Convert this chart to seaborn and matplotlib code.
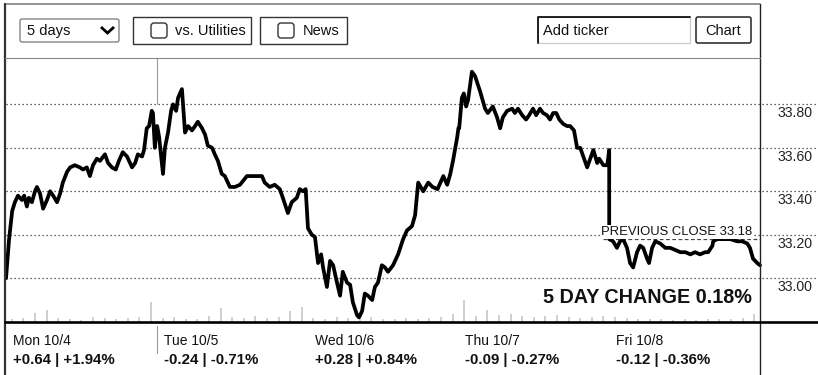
import numpy as np
import pandas as pd
import matplotlib
matplotlib.use("Agg")
import matplotlib.pyplot as plt
from matplotlib import transforms
from matplotlib.patches import Rectangle, FancyBboxPatch
import seaborn as sns

# ---- data -------------------------------------------------------------
days = ["Mon 10/4", "Tue 10/5", "Wed 10/6", "Thu 10/7", "Fri 10/8"]
day_change = ["+0.64 | +1.94%", "-0.24 | -0.71%", "+0.28 | +0.84%",
              "-0.09 | -0.27%", "-0.12 | -0.36%"]
price_levels = [33.00, 33.20, 33.40, 33.60, 33.80]
prev_close = 33.18
five_day_change = "0.18%"

# minutes after the 9:30 open and last trade price
mon_t = [0, 8, 16, 23, 31, 41, 47, 54, 59, 67, 75, 80, 88, 96, 106, 114, 122, 132,
         140, 147, 158, 166, 178, 191, 199, 209, 217, 225, 235, 243, 256, 264, 274,
         284, 292, 302, 313, 326, 334, 341, 352, 357, 364, 370, 377, 380, 385, 390]
mon_p = [33.00, 33.18, 33.31, 33.35, 33.38, 33.36, 33.38, 33.33, 33.37, 33.35, 33.40,
         33.42, 33.39, 33.32, 33.36, 33.40, 33.38, 33.35, 33.39, 33.44, 33.49, 33.51,
         33.52, 33.51, 33.50, 33.51, 33.47, 33.52, 33.55, 33.54, 33.57, 33.53, 33.51,
         33.50, 33.54, 33.58, 33.56, 33.51, 33.53, 33.57, 33.56, 33.59, 33.69, 33.70,
         33.77, 33.76, 33.60, 33.70]

tue_t = [1, 6, 16, 21, 29, 37, 42, 50, 55, 65, 73, 81, 91, 99, 106, 117, 125, 132,
         143, 150, 158, 168, 176, 189, 202, 215, 233, 246, 259, 272, 279, 292, 305,
         318, 326, 339, 349, 362, 370, 378, 385]
tue_p = [33.70, 33.65, 33.48, 33.60, 33.67, 33.77, 33.80, 33.77, 33.83, 33.87, 33.67,
         33.70, 33.68, 33.70, 33.72, 33.69, 33.66, 33.61, 33.60, 33.57, 33.54, 33.48,
         33.47, 33.42, 33.42, 33.43, 33.47, 33.47, 33.47, 33.47, 33.44, 33.42, 33.43,
         33.41, 33.37, 33.30, 33.35, 33.37, 33.41, 33.40, 33.41]

wed_t = [1, 11, 19, 27, 35, 40, 50, 58, 66, 76, 84, 91, 102, 110, 117, 128, 133, 141,
         148, 156, 167, 174, 182, 192, 200, 208, 221, 234, 247, 257, 270, 278, 286,
         299, 312, 323, 336, 351, 361, 369, 376, 387, 390]
wed_p = [33.23, 33.20, 33.19, 33.07, 33.11, 33.05, 32.96, 33.08, 33.06, 32.98, 32.92,
         33.03, 32.98, 32.97, 32.89, 32.83, 32.82, 32.85, 32.93, 32.92, 32.90, 32.96,
         32.98, 33.06, 33.05, 33.03, 33.06, 33.11, 33.18, 33.22, 33.24, 33.29, 33.44,
         33.40, 33.44, 33.42, 33.41, 33.47, 33.43, 33.48, 33.54, 33.65, 33.69]

thu_t = [2, 9, 14, 20, 25, 35, 43, 56, 69, 76, 89, 100, 108, 115, 126, 139, 146, 154,
         165, 175, 183, 193, 201, 211, 219, 229, 237, 245, 253, 261, 271, 281, 289,
         299, 307, 315, 323, 333, 341, 349, 359, 364, 375, 385, 390]
thu_p = [33.69, 33.83, 33.85, 33.79, 33.82, 33.95, 33.93, 33.86, 33.78, 33.76, 33.79,
         33.74, 33.69, 33.74, 33.77, 33.78, 33.76, 33.78, 33.75, 33.73, 33.75, 33.78,
         33.75, 33.78, 33.76, 33.75, 33.73, 33.76, 33.76, 33.73, 33.71, 33.70, 33.70,
         33.68, 33.60, 33.60, 33.56, 33.51, 33.55, 33.59, 33.53, 33.55, 33.52, 33.52,
         33.59]

fri_t = [0, 10, 20, 28, 36, 46, 54, 62, 72, 80, 88, 98, 103, 111, 119, 132, 145, 158,
         171, 184, 197, 210, 222, 235, 248, 256, 267, 269, 279, 295, 313, 331, 344,
         357, 364, 372, 383, 390]
fri_p = [33.18, 33.17, 33.14, 33.17, 33.18, 33.14, 33.07, 33.05, 33.12, 33.15, 33.14,
         33.09, 33.07, 33.14, 33.17, 33.16, 33.14, 33.14, 33.13, 33.12, 33.12, 33.11,
         33.12, 33.11, 33.12, 33.12, 33.15, 33.17, 33.18, 33.18, 33.18, 33.17, 33.17,
         33.16, 33.14, 33.09, 33.07, 33.06]

# half-hour volume, thousands of shares
mon_vol = [15, 20, 45, 60, 20, 15, 10, 25, 20, 15, 20, 25, 100]
tue_vol = [20, 25, 15, 15, 30, 70, 25, 20, 30, 20, 25, 55, 75]
wed_vol = [20, 15, 25, 20, 15, 25, 15, 15, 20, 15, 20, 25, 40]
thu_vol = [110, 30, 60, 35, 40, 30, 25, 30, 35, 25, 20, 25, 30]
fri_vol = [25, 20, 15, 15, 15, 10, 15, 10, 15, 15, 15, 20, 40]

SESSION_MIN = 390

# ---- tidy frames -------------------------------------------------------
times = [mon_t, tue_t, wed_t, thu_t, fri_t]
prices = [mon_p, tue_p, wed_p, thu_p, fri_p]
df = pd.concat([pd.DataFrame({"x": i + np.asarray(t) / SESSION_MIN, "price": p})
                for i, (t, p) in enumerate(zip(times, prices))], ignore_index=True)

vols = [mon_vol, tue_vol, wed_vol, thu_vol, fri_vol]
vdf = pd.concat([pd.DataFrame({"x": i + (np.arange(len(v)) + 0.5) / len(v), "vol": v})
                 for i, v in enumerate(vols)], ignore_index=True)

# ---- figure ------------------------------------------------------------
sns.set_theme(style="white")
plt.rcParams["font.family"] = ["Liberation Sans", "DejaVu Sans"]

W, H = 818, 375
fig = plt.figure(figsize=(W / 100, H / 100), dpi=100)
fig.patch.set_facecolor("white")

# plot region in pixels: left 6, right edge of figure, top 58, bottom 322
L, T, B = 6, 58, 322
DAY_PX = 150.8
ax = fig.add_axes([L / W, (H - B) / H, (W - L) / W, (B - T) / H])
ax.set_xlim(0, (W - L) / DAY_PX)
ax.set_ylim(32.799, 34.013)

vax = ax.twinx()
vax.set_ylim(0, 1320)
ax.set_zorder(vax.get_zorder() + 1)
ax.patch.set_visible(False)
vax.bar(vdf["x"], vdf["vol"], width=0.012, color="#cfcfcf", linewidth=0)

for a in (ax, vax):
    a.set_xticks([])
    a.set_yticks([])
    a.set_xlabel("")
    a.set_ylabel("")
    for s in a.spines.values():
        s.set_visible(False)

for lv in price_levels:
    ax.axhline(lv, color="#333333", lw=0.9, ls=(0, (1, 2.2)), zorder=1)

# previous close reference
ax.hlines(prev_close, 3.96, 5, colors="#444444", lw=0.9, linestyles=(0, (3, 2)), zorder=2)
ax.text(5, prev_close, f"PREVIOUS CLOSE {prev_close:.2f}",
        transform=transforms.offset_copy(ax.transData, x=-8, y=4, units="dots"),
        ha="right", va="baseline", fontsize=9.4, color="#111111", zorder=5,
        bbox=dict(fc="white", ec="none", pad=0.6))

# faint marker at the Tuesday open
ax.vlines(1, price_levels[-1], 34.013, colors="#9a9a9a", lw=0.8, zorder=1)

sns.lineplot(data=df, x="x", y="price", ax=ax, color="black", lw=2.7,
             estimator=None, sort=False, zorder=3)
ax.set_xlabel("")
ax.set_ylabel("")

# ---- overlay in pixel coordinates for the frame and controls ----------
ov = fig.add_axes([0, 0, 1, 1], zorder=10)
ov.set_xlim(0, W)
ov.set_ylim(H, 0)
ov.axis("off")

# price labels on the right
lab_tr = transforms.offset_copy(
    transforms.blended_transform_factory(ov.transData, ax.transData),
    y=-2, units="dots")
for lv in price_levels:
    ov.text(778, lv, f"{lv:.2f}", transform=lab_tr, ha="left", va="top",
            fontsize=10.2, color="#222222")

# frame
ov.plot([5, 760], [4, 4], color="#777777", lw=1.1)
ov.plot([5, 5], [4, H], color="#333333", lw=1.6)
ov.plot([760, 760], [4, H], color="#222222", lw=1.0)
ov.plot([5, 760], [58, 58], color="#888888", lw=0.8)
ov.plot([5, W], [322, 322], color="black", lw=1.9)

# day labels and daily change
day_tr = transforms.offset_copy(
    transforms.blended_transform_factory(ax.transData, ov.transData),
    x=7, units="dots")
for i, (d, c) in enumerate(zip(days, day_change)):
    ov.text(i, 345, d, transform=day_tr, ha="left", va="baseline",
            fontsize=10, color="#111111")
    ov.text(i, 364, c, transform=day_tr, ha="left", va="baseline",
            fontsize=10.8, fontweight="bold", color="#111111")
ov.plot([157, 157], [326, 353], color="#999999", lw=0.8)

ov.text(752, 303, f"5 DAY CHANGE {five_day_change}", ha="right", va="baseline",
        fontsize=14.2, fontweight="bold", color="#111111")

# controls
ov.add_patch(FancyBboxPatch((20, 19), 99, 23, boxstyle="round,pad=0,rounding_size=2",
                            fc="white", ec="#777777", lw=0.9))
ov.text(27, 35, "5 days", fontsize=10.5, va="baseline", color="#111111")
ov.plot([101, 107.5, 114], [27, 33, 27], color="black", lw=2.0,
        solid_capstyle="butt", solid_joinstyle="miter")

ov.add_patch(Rectangle((133, 17), 118, 27, fc="white", ec="#333333", lw=1.0))
ov.add_patch(FancyBboxPatch((151, 23), 16, 15, boxstyle="round,pad=0,rounding_size=3",
                            fc="white", ec="#333333", lw=1.0))
ov.text(175, 35, "vs. Utilities", fontsize=10.5, va="baseline", color="#111111")

ov.add_patch(Rectangle((260, 17), 87, 27, fc="white", ec="#333333", lw=1.0))
ov.add_patch(FancyBboxPatch((278, 23), 16, 15, boxstyle="round,pad=0,rounding_size=3",
                            fc="white", ec="#333333", lw=1.0))
ov.text(303, 35, "News", fontsize=10.5, va="baseline", color="#111111")

ov.add_patch(Rectangle((538, 17), 152, 26, fc="white", ec="#c8c8c8", lw=0.8))
ov.plot([538, 538, 690], [43, 17, 17], color="#111111", lw=1.3)
ov.text(543, 35, "Add ticker", fontsize=10.5, va="baseline", color="#111111")

ov.add_patch(FancyBboxPatch((696, 17), 55, 26, boxstyle="round,pad=0,rounding_size=2",
                            fc="white", ec="#222222", lw=1.1))
ov.text(723.5, 35, "Chart", fontsize=10.5, ha="center", va="baseline", color="#111111")

fig.savefig("out.png", dpi=100, facecolor="white")
